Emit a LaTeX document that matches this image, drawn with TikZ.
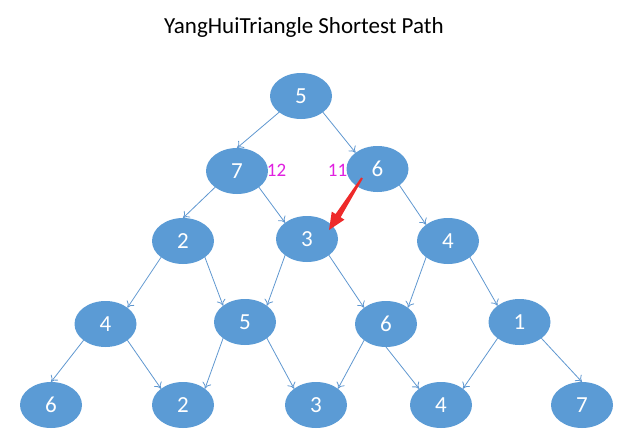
\documentclass[tikz,border=0pt]{standalone}
\usepackage{fontspec}
\setmainfont{Carlito}
\usetikzlibrary{arrows.meta,calc,shapes.geometric}
\definecolor{nodeblue}{HTML}{5B9BD5}
\definecolor{edgeblue}{HTML}{5F97D0}
\definecolor{pathred}{HTML}{EE2A2A}
\definecolor{labmag}{HTML}{E020E0}
\tikzset{
  num/.style={ellipse, fill=nodeblue, minimum width=62pt, minimum height=46pt,
    inner sep=0pt, outer sep=0pt, text=white, font=\fontsize{23}{23}\selectfont},
  link/.style={draw=edgeblue, line width=0.8pt, -{To[length=6pt,width=9pt]}},
  cost/.style={text=labmag, font=\fontsize{19}{19}\selectfont, inner sep=0pt},
  titletext/.style={font=\fontsize{23}{23}\selectfont, inner sep=0pt}
}
\begin{document}
\begin{tikzpicture}[x=1pt,y=-1pt]
\useasboundingbox (0,0) rectangle (639,439);
\node[titletext] (title) at (304,27) {YangHuiTriangle Shortest Path};
% row 0
\node[num] (r0) at (301,96) {5};
% row 1
\node[num] (a1) at (237,171) {7};
\node[num] (b1) at (377.5,169) {6};
% row 2
\node[num] (a2) at (183,241) {2};
\node[num] (b2) at (307,239) {3};
\node[num] (c2) at (448,241) {4};
% row 3
\node[num] (a3) at (105.5,324) {4};
\node[num] (b3) at (245,322) {5};
\node[num] (c3) at (386,324) {6};
\node[num] (d3) at (519.5,322) {1};
% row 4
\node[num] (a4) at (51,405) {6};
\node[num] (b4) at (183,405) {2};
\node[num] (c4) at (316,405) {3};
\node[num] (d4) at (441,405) {4};
\node[num] (e4) at (582,405) {7};
% cost labels
\node[cost] (l12) at (276.5,170) {12};
\node[cost] (l11) at (337.5,170) {11};
% edges
\draw[link] (r0.south west) -- (a1.north);
\draw[link] (r0.south east) -- (b1.north west);
\draw[link] (a1.south west) -- (a2.north);
\draw[link] (a1.south east) -- (b2.north west);
\draw[link] (b1.south east) -- (c2.north west);
\draw[link] (a2.south west) -- (a3.north east);
\draw[link] (a2.south east) -- (b3.north west);
\draw[link] (b2.south west) -- (b3.north east);
\draw[link] (b2.south east) -- (c3.north west);
\draw[link] (c2.south west) -- (c3.north east);
\draw[link] (c2.south east) -- (d3.north west);
\draw[link] (a3.south west) -- (a4.north);
\draw[link] (a3.south east) -- (b4.north west);
\draw[link] (b3.south west) -- (b4.north east);
\draw[link] (b3.south east) -- (c4.north west);
\draw[link] (c3.south west) -- (c4.north east);
\draw[link] (c3.south) -- (d4.north west);
\draw[link] (d3.south west) -- (d4.north east);
\draw[link] (d3.south east) -- (e4.north);
% red arrow from 6 to 3
\coordinate (rs) at ($(b1.center)+(-15.5,9)$);
\coordinate (rt) at ($(b2.center)+(22,-9)$);
\coordinate (rh) at ($(rt)!17pt!(rs)$);
\fill[pathred] ($(rs)!1pt!90:(rt)$) -- ($(rh)!3pt!-90:(rs)$) -- ($(rh)!7.5pt!-90:(rs)$)
  -- (rt) -- ($(rh)!7.5pt!90:(rs)$) -- ($(rh)!3pt!90:(rs)$) -- ($(rs)!1pt!-90:(rt)$) -- cycle;
\end{tikzpicture}
\end{document}
